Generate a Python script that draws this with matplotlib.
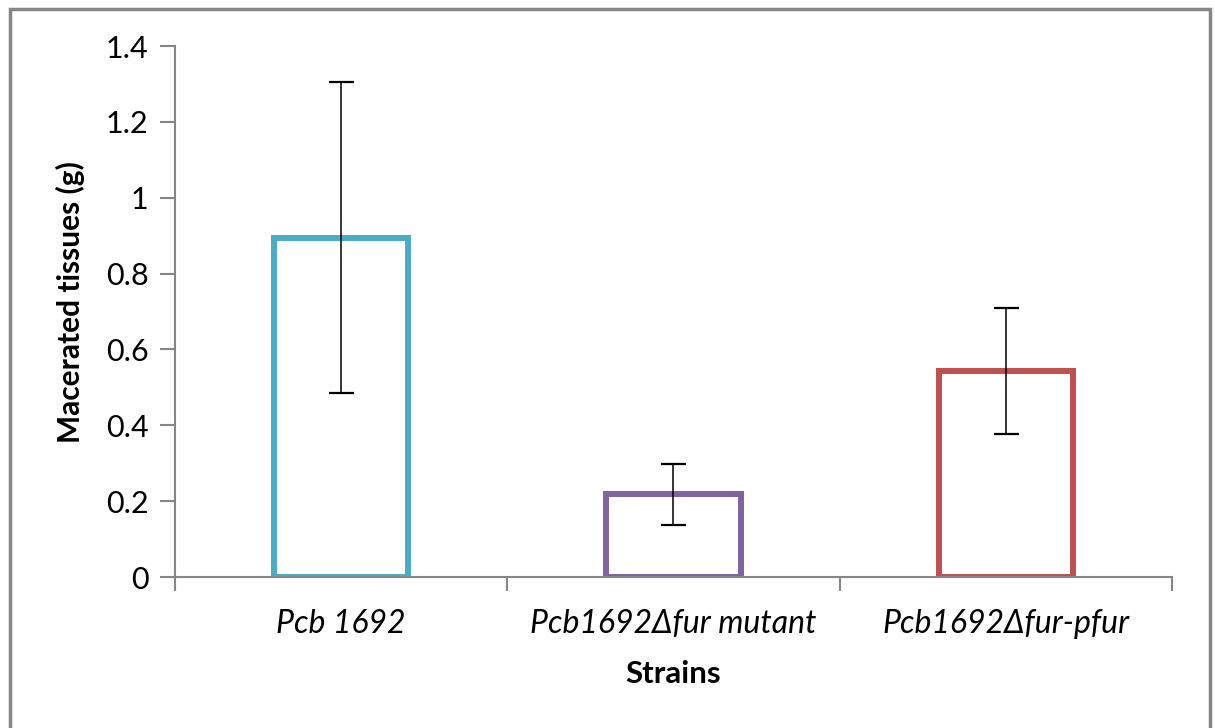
import matplotlib
matplotlib.use("Agg")
import matplotlib.pyplot as plt
from matplotlib.patches import Rectangle

categories = ["Pcb 1692", "Pcb1692Δfur mutant", "Pcb1692Δfur-pfur"]
values = [0.895, 0.218, 0.543]
errors = [0.41, 0.08, 0.166]
colors = ["#4BACC6", "#8064A2", "#C0504D"]
yticks = [0, 0.2, 0.4, 0.6, 0.8, 1, 1.2, 1.4]
ytick_labels = ["0", "0.2", "0.4", "0.6", "0.8", "1", "1.2", "1.4"]

plt.rcParams['font.family'] = ['Lato', 'DejaVu Sans']

fig = plt.figure(figsize=(12.15, 7.28), dpi=100)
ax = fig.add_axes([0.144, 0.2074, 0.8206, 0.7294])

x = list(range(len(categories)))
ax.bar(x, values, width=0.405, facecolor="white", edgecolor=colors, linewidth=4.3, zorder=2)
ax.errorbar(x, values, yerr=errors, fmt="none", ecolor="black", elinewidth=1.1,
            capsize=9, capthick=1.6, zorder=3)

ax.set_xlim(-0.5, 2.5)
ax.set_ylim(0, 1.4)
ax.set_yticks(yticks)
ax.set_yticklabels(ytick_labels, fontsize=22)
ax.set_xticks([-0.5, 0.5, 1.5, 2.5])
ax.set_xticklabels([])
ax.set_xticks(x, minor=True)
ax.set_xticklabels(categories, minor=True, fontsize=23, style="italic")
ax.tick_params(axis="x", which="minor", length=0, pad=23)
ax.tick_params(axis="x", which="major", length=10, width=1.5, color="#868686", direction="out")
ax.tick_params(axis="y", length=11, width=1.5, color="#868686", direction="out", pad=8)

for s in ["top", "right"]:
    ax.spines[s].set_visible(False)
for s in ["left", "bottom"]:
    ax.spines[s].set_color("#868686")
    ax.spines[s].set_linewidth(1.5)

ax.set_xlabel("Strains", fontsize=22.5, fontweight="bold")
ax.xaxis.set_label_coords(0.5, -0.156)
ax.set_ylabel("Macerated tissues (g)", fontsize=21.5, fontweight="bold")
ax.yaxis.set_label_coords(-0.09, 0.518)

fig.patches.append(Rectangle((9.5/1215, -0.05), (1209.5-9.5)/1215, 1.05 - 9.5/728,
                             transform=fig.transFigure, fill=False,
                             edgecolor="#868686", linewidth=2.5, zorder=0))

fig.savefig("out.png", dpi=100)
